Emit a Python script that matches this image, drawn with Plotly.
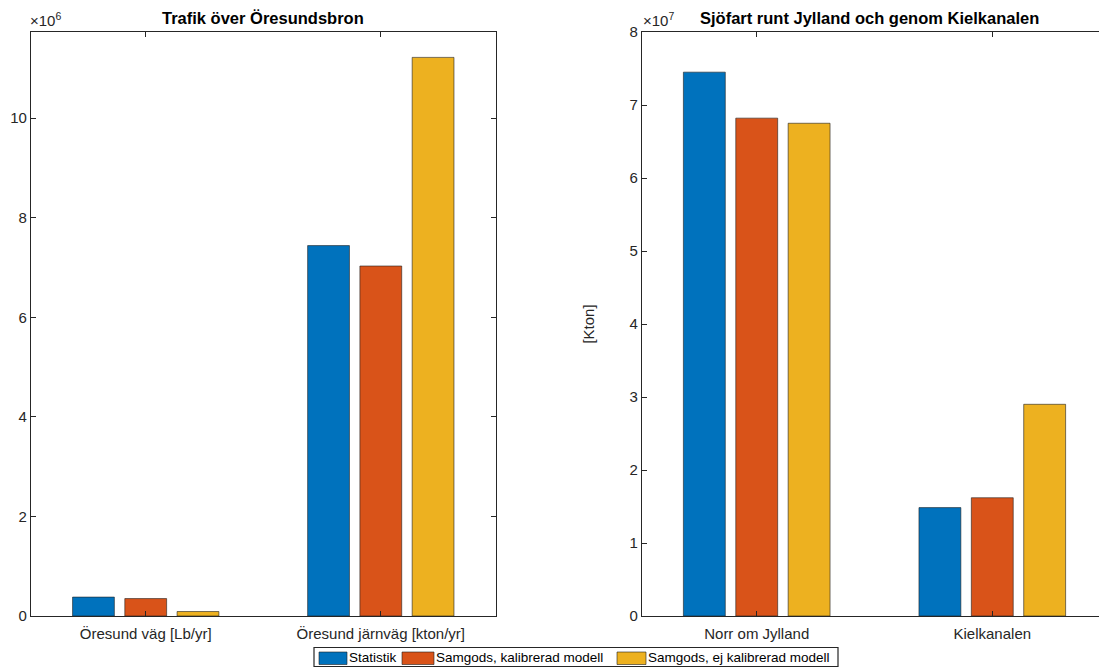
import plotly.graph_objects as go

# ---- data ----
series_names = ["Statistik", "Samgods, kalibrerad modell", "Samgods, ej kalibrerad modell"]
left_categories = ["Öresund väg [Lb/yr]", "Öresund järnväg [kton/yr]"]
right_categories = ["Norr om Jylland", "Kielkanalen"]

stat_left = [0.38e6, 7.44e6]
kal_left = [0.35e6, 7.03e6]
ejkal_left = [0.09e6, 11.22e6]

stat_right = [7.45e7, 1.485e7]
kal_right = [6.82e7, 1.62e7]
ejkal_right = [6.75e7, 2.90e7]

left_ticks = [0, 2e6, 4e6, 6e6, 8e6, 10e6]
left_ticktext = ["0", "2", "4", "6", "8", "10"]
right_ticks = [0, 1e7, 2e7, 3e7, 4e7, 5e7, 6e7, 7e7, 8e7]
right_ticktext = ["0", "1", "2", "3", "4", "5", "6", "7", "8"]

colors = ["#0072BD", "#D95319", "#EDB120"]
FONT = "Liberation Sans, Arial, Helvetica, sans-serif"
AX = "#262626"

W, H = 1099, 669
T, B = 32, 53


def px_x(px):
    return px / W


def px_y(py):
    return (H - B - py) / (H - T - B)


fig = go.Figure()
xpos = [1, 2]
left_sets = [stat_left, kal_left, ejkal_left]
right_sets = [stat_right, kal_right, ejkal_right]
bar_line = dict(color="rgba(30,30,30,0.85)", width=0.7)
for i, name in enumerate(series_names):
    fig.add_trace(go.Bar(x=xpos, y=left_sets[i], name=name,
                         marker=dict(color=colors[i], line=bar_line),
                         xaxis="x", yaxis="y", showlegend=False))
for i, name in enumerate(series_names):
    fig.add_trace(go.Bar(x=xpos, y=right_sets[i], name=name,
                         marker=dict(color=colors[i], line=bar_line),
                         xaxis="x2", yaxis="y2", showlegend=False))

axis_common = dict(showgrid=False, zeroline=False, showline=True, linecolor=AX, linewidth=1.2,
                   ticks="inside", ticklen=5, tickcolor=AX, tickwidth=1.2,
                   tickfont=dict(family=FONT, size=15, color=AX))

fig.update_layout(
    width=W, height=H,
    margin=dict(l=0, r=0, t=T, b=B, pad=0),
    paper_bgcolor="white", plot_bgcolor="white",
    barmode="group", bargap=0.333, bargroupgap=0.2,
    font=dict(family=FONT, color=AX),
    xaxis=dict(domain=[31 / W, 496 / W], range=[0.512, 2.49], tickvals=xpos, ticktext=left_categories,
               mirror="ticks", anchor="y", ticklabelstandoff=4, **axis_common),
    yaxis=dict(domain=[0, 1], range=[0, 11.73e6], tickvals=left_ticks, ticktext=left_ticktext,
               mirror="ticks", anchor="x", **axis_common),
    xaxis2=dict(domain=[642 / W, 1.0], range=[0.513, 2.453], tickvals=xpos, ticktext=right_categories,
                mirror="ticks", anchor="y2", ticklabelstandoff=4, **axis_common),
    yaxis2=dict(domain=[0, 1], range=[0, 8e7], tickvals=right_ticks, ticktext=right_ticktext,
                mirror=False, anchor="x2",
                title=dict(text="[Kton]", font=dict(family=FONT, size=15, color=AX), standoff=31),
                **axis_common),
    showlegend=False,
)

annotations = [
    dict(text="<b>Trafik över Öresundsbron</b>", x=263 / W, y=1, xref="paper", yref="paper",
         xanchor="center", yanchor="bottom", yshift=3, showarrow=False,
         font=dict(family=FONT, size=16.5, color="black")),
    dict(text="<b>Sjöfart runt Jylland och genom Kielkanalen</b>", x=869 / W, y=1, xref="paper", yref="paper",
         xanchor="center", yanchor="bottom", yshift=3, showarrow=False,
         font=dict(family=FONT, size=16.5, color="black")),
    dict(text="×10<sup>6</sup>", x=28 / W, y=1, xref="paper", yref="paper",
         xanchor="left", yanchor="bottom", yshift=1, showarrow=False,
         font=dict(family=FONT, size=15, color=AX)),
    dict(text="×10<sup>7</sup>", x=641 / W, y=1, xref="paper", yref="paper",
         xanchor="left", yanchor="bottom", yshift=1, showarrow=False,
         font=dict(family=FONT, size=15, color=AX)),
]

# ---- legend box (MATLAB-style, drawn as layout decoration) ----
shapes = [dict(type="rect", xref="paper", yref="paper",
               x0=px_x(314), x1=px_x(838), y0=px_y(666.5), y1=px_y(647.5),
               line=dict(color=AX, width=1.2), fillcolor="white", layer="above")]
legend_swatch_x = [(319, 347), (402, 434), (617, 646)]
legend_text_x = [348, 435, 647]
for i, name in enumerate(series_names):
    sx0, sx1 = legend_swatch_x[i]
    shapes.append(dict(type="rect", xref="paper", yref="paper",
                       x0=px_x(sx0), x1=px_x(sx1), y0=px_y(664.5), y1=px_y(652),
                       line=dict(color="rgba(30,30,30,0.85)", width=0.7), fillcolor=colors[i], layer="above"))
    annotations.append(dict(text=name, x=px_x(legend_text_x[i]), y=px_y(657.5), xref="paper", yref="paper",
                            xanchor="left", yanchor="middle", showarrow=False, borderpad=0,
                            font=dict(family=FONT, size=13.5, color="black")))

fig.update_layout(annotations=annotations, shapes=shapes)

fig.write_html("out.html")
